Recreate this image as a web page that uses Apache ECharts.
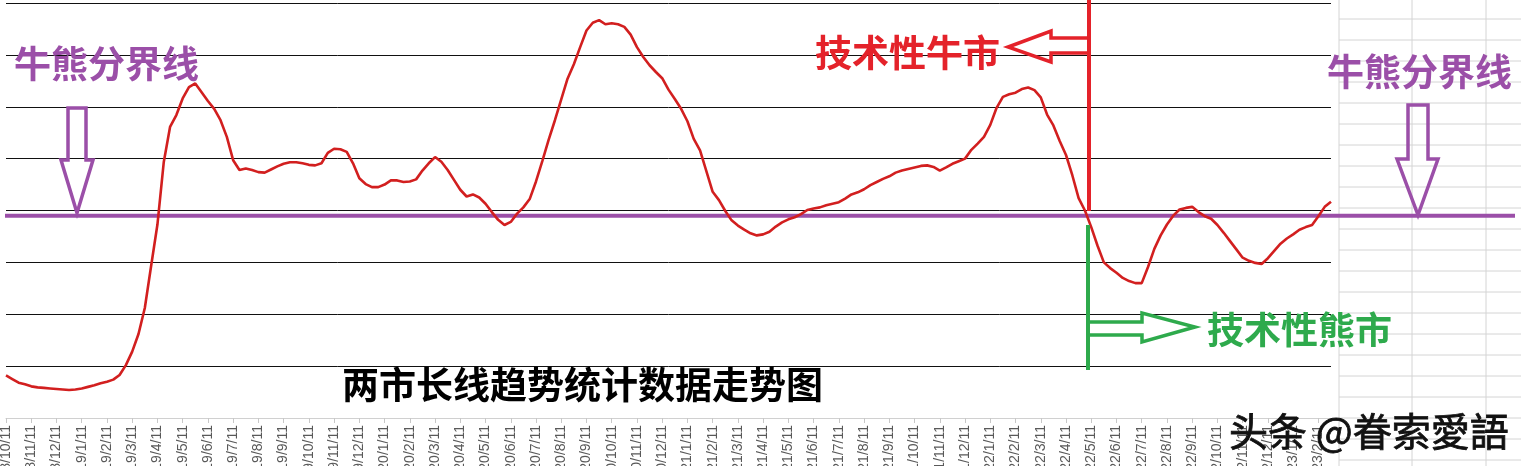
<!DOCTYPE html>
<html>
<head>
<meta charset="utf-8">
<script src="https://cdn.jsdelivr.net/npm/echarts@6/dist/echarts.min.js"></script>
<style>
html,body{margin:0;padding:0;background:#fff;}
#chart{width:1521px;height:466px;}
</style>
</head>
<body>
<div id="chart"></div>
<script>
// Monthly tick labels shown on the x axis
const monthLabels = [
  '2018/10/11','2018/11/11','2018/12/11',
  '2019/1/11','2019/2/11','2019/3/11','2019/4/11','2019/5/11','2019/6/11','2019/7/11','2019/8/11','2019/9/11','2019/10/11','2019/11/11','2019/12/11',
  '2020/1/11','2020/2/11','2020/3/11','2020/4/11','2020/5/11','2020/6/11','2020/7/11','2020/8/11','2020/9/11','2020/10/11','2020/11/11','2020/12/11',
  '2021/1/11','2021/2/11','2021/3/11','2021/4/11','2021/5/11','2021/6/11','2021/7/11','2021/8/11','2021/9/11','2021/10/11','2021/11/11','2021/12/11',
  '2022/1/11','2022/2/11','2022/3/11','2022/4/11','2022/5/11','2022/6/11','2022/7/11','2022/8/11','2022/9/11','2022/10/11','2022/11/11','2022/12/11',
  '2023/1/11','2023/2/11'
];

// Long-term trend statistic (weekly readings)
const trendValues = [
  0.82,0.75,0.68,0.65,0.61,0.59,0.58,0.57,0.56,0.55,
  0.54,0.55,0.57,0.60,0.63,0.67,0.70,0.74,0.83,1.02,
  1.28,1.62,2.12,2.93,3.73,4.93,5.61,5.84,6.16,6.38,
  6.45,6.28,6.11,5.96,5.74,5.42,4.97,4.78,4.81,4.78,
  4.74,4.73,4.79,4.85,4.90,4.93,4.93,4.91,4.88,4.87,
  4.91,5.11,5.19,5.18,5.13,4.91,4.62,4.51,4.45,4.45,
  4.50,4.58,4.58,4.55,4.56,4.60,4.77,4.91,5.03,4.94,
  4.78,4.59,4.40,4.27,4.31,4.25,4.13,3.97,3.82,3.72,
  3.78,3.94,4.06,4.22,4.56,4.95,5.36,5.74,6.14,6.54,
  6.82,7.15,7.47,7.62,7.67,7.59,7.61,7.59,7.54,7.39,
  7.15,6.96,6.80,6.67,6.55,6.33,6.15,5.96,5.72,5.38,
  5.16,4.76,4.36,4.20,3.99,3.81,3.71,3.63,3.56,3.52,
  3.54,3.59,3.69,3.77,3.83,3.87,3.93,4.01,4.04,4.06,
  4.10,4.13,4.16,4.23,4.31,4.35,4.41,4.49,4.55,4.61,
  4.66,4.73,4.77,4.80,4.83,4.86,4.87,4.84,4.77,4.83,
  4.90,4.95,5.00,5.17,5.29,5.42,5.65,5.98,6.19,6.24,
  6.27,6.34,6.37,6.32,6.18,5.85,5.64,5.34,5.07,4.68,
  4.24,4.00,3.68,3.32,3.00,2.89,2.80,2.70,2.64,2.60,
  2.60,2.91,3.26,3.52,3.73,3.90,4.02,4.05,4.07,3.97,
  3.89,3.84,3.72,3.57,3.41,3.25,3.09,3.03,2.99,2.97,
  3.08,3.22,3.36,3.46,3.54,3.63,3.68,3.72,3.89,4.07,
  4.17
];

// Bull / bear dividing level
const dividerLevel = [3.9];

// Build weekly categories from the monthly labels
const categories = [];
monthLabels.forEach(function (m) {
  const p = m.split('/');
  const y = +p[0], mo = +p[1];
  const ny = mo === 12 ? y + 1 : y, nm = mo === 12 ? 1 : mo + 1;
  categories.push(m, y + '/' + mo + '/18', y + '/' + mo + '/25', ny + '/' + nm + '/4');
});
categories.length = trendValues.length;

const chart = echarts.init(document.getElementById('chart'), null, {renderer: 'canvas'});

const CJK = '"Noto Sans CJK SC", "Noto Sans", sans-serif';
const RED = '#e4222a';
const GREEN = '#2eaa4c';
const PURPLE = '#9b4fa8';

const splitColors = ['#d9d9d9','#111','#111','#111','#111','#111','#111','#111','#111'];

chart.setOption({
  animation: false,
  backgroundColor: '#ffffff',
  grid: {left: 6, right: 190, top: 3, bottom: 48, containLabel: false, outerBoundsMode: 'none'},
  xAxis: {
    type: 'category',
    data: categories,
    boundaryGap: false,
    axisLine: {show: true, lineStyle: {color: '#d0d0d0', width: 1}},
    axisTick: {show: true, interval: 3, length: 5, lineStyle: {color: '#c8c8c8'}},
    axisLabel: {
      interval: 3, rotate: 90, margin: 7,
      color: '#595959', fontSize: 14, fontFamily: '"Liberation Sans", Arial, sans-serif'
    },
    splitLine: {show: false}
  },
  yAxis: {
    type: 'value', min: 0, max: 8, interval: 1,
    axisLine: {show: false}, axisTick: {show: false}, axisLabel: {show: false},
    splitLine: {show: true, lineStyle: {color: splitColors, width: 1}}
  },
  series: [{
    type: 'line',
    data: trendValues,
    showSymbol: false,
    symbol: 'none',
    smooth: false,
    z: 5,
    lineStyle: {color: '#d21f1f', width: 2.6}
  }]
});

// Decorations placed relative to the chart
const yDiv = chart.convertToPixel({yAxisIndex: 0}, dividerLevel[0]);

const graphics = [];
// Spreadsheet cell grid on the right
[1339, 1412, 1486].forEach(function (x) {
  graphics.push({type: 'line', z: 0, shape: {x1: x, y1: 0, x2: x, y2: 466}, style: {stroke: '#d4d4d4', lineWidth: 1}});
});
for (let y = 19; y < 466; y += 21) {
  graphics.push({type: 'line', z: 0, shape: {x1: 1339, y1: y, x2: 1521, y2: y}, style: {stroke: '#d4d4d4', lineWidth: 1}});
}
// Bull/bear dividing line
graphics.push({type: 'line', z: 1, shape: {x1: 5, y1: yDiv, x2: 1515, y2: yDiv}, style: {stroke: PURPLE, lineWidth: 4}});

// Left purple label + down arrow
graphics.push({type: 'text', z: 10, style: {text: '牛熊分界线', x: 14, y: 64, fill: PURPLE, font: 'bold 37px ' + CJK, textVerticalAlign: 'middle'}});
graphics.push({type: 'polygon', z: 10, shape: {points: [[68,108],[86,108],[86,160],[93,160],[77,213],[61,160],[68,160]]}, style: {stroke: PURPLE, lineWidth: 3.5, fill: 'transparent'}});

// Right purple label + down arrow
graphics.push({type: 'text', z: 10, style: {text: '牛熊分界线', x: 1327, y: 72, fill: PURPLE, font: 'bold 37px ' + CJK, textVerticalAlign: 'middle'}});
graphics.push({type: 'polygon', z: 10, shape: {points: [[1408,105],[1428,105],[1428,159],[1438,159],[1418,215],[1397,159],[1408,159]]}, style: {stroke: PURPLE, lineWidth: 3.5, fill: 'transparent'}});

// Red bull-market marker
graphics.push({type: 'line', z: 10, shape: {x1: 1089, y1: 0, x2: 1089, y2: 211}, style: {stroke: RED, lineWidth: 4}});
graphics.push({type: 'polyline', z: 10, shape: {points: [[1088,38],[1051,38],[1051,31],[1008,47],[1051,62],[1051,53],[1088,53]]}, style: {stroke: RED, lineWidth: 3.5, fill: null}});
graphics.push({type: 'text', z: 10, style: {text: '技术性牛市', x: 815, y: 53, fill: RED, font: 'bold 37px ' + CJK, textVerticalAlign: 'middle'}});

// Green bear-market marker
graphics.push({type: 'line', z: 10, shape: {x1: 1088, y1: 225, x2: 1088, y2: 370}, style: {stroke: GREEN, lineWidth: 4}});
graphics.push({type: 'polyline', z: 10, shape: {points: [[1090,322],[1142,322],[1142,313],[1195,327],[1142,342],[1142,335],[1090,335]]}, style: {stroke: GREEN, lineWidth: 3.5, fill: null}});
graphics.push({type: 'text', z: 10, style: {text: '技术性熊市', x: 1207, y: 330, fill: GREEN, font: 'bold 37px ' + CJK, textVerticalAlign: 'middle'}});

// Chart caption
graphics.push({type: 'text', z: 10, style: {text: '两市长线趋势统计数据走势图', x: 342, y: 385, fill: '#000', font: 'bold 37px ' + CJK, textVerticalAlign: 'middle'}});

// Watermark
graphics.push({type: 'text', z: 20, style: {
  text: '头条 @眷索愛語', x: 1229, y: 431, fill: '#111',
  font: '39px ' + CJK, textVerticalAlign: 'middle',
  stroke: '#111', lineWidth: 0.8,
  textShadowColor: 'rgba(90,90,90,0.8)', textShadowOffsetX: 2, textShadowOffsetY: 2, textShadowBlur: 0
}});

chart.setOption({graphic: {elements: graphics}});
</script>
</body>
</html>
